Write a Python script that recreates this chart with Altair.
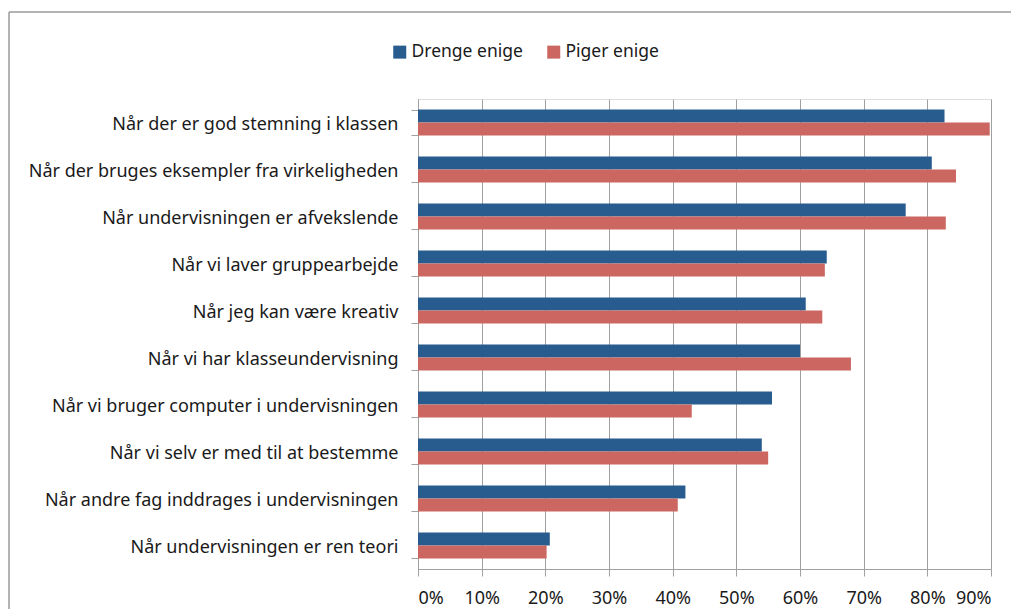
import altair as alt
import pandas as pd

categories = [
    "Når der er god stemning i klassen",
    "Når der bruges eksempler fra virkeligheden",
    "Når undervisningen er afvekslende",
    "Når vi laver gruppearbejde",
    "Når jeg kan være kreativ",
    "Når vi har klasseundervisning",
    "Når vi bruger computer i undervisningen",
    "Når vi selv er med til at bestemme",
    "Når andre fag inddrages i undervisningen",
    "Når undervisningen er ren teori",
]
drenge = [82.7, 80.7, 76.6, 64.2, 60.9, 60.0, 55.6, 54.0, 42.0, 20.7]
piger = [89.8, 84.5, 82.9, 63.9, 63.5, 68.0, 43.0, 55.0, 40.8, 20.2]
series = ["Drenge enige", "Piger enige"]
colors = ["#285C8F", "#CC6660"]
ticks = [0, 0.1, 0.2, 0.3, 0.4, 0.5, 0.6, 0.7, 0.8, 0.9]

rows = []
for c, d, p in zip(categories, drenge, piger):
    rows.append({"cat": c, "series": series[0], "val": d / 100})
    rows.append({"cat": c, "series": series[1], "val": p / 100})
df = pd.DataFrame(rows)

FONT = "Noto Sans"

bars = alt.Chart(df).mark_bar().encode(
    x=alt.X("val:Q", scale=alt.Scale(domain=[0, 0.9], nice=False),
            axis=alt.Axis(values=ticks, format=".0%", title=None, grid=True,
                          gridColor="#a0a0a0", domainColor="#a0a0a0",
                          tickColor="#a0a0a0", tickSize=7, labelFontSize=18,
                          labelFont=FONT, labelColor="#1a1a1a", labelPadding=13)),
    y=alt.Y("cat:N", sort=categories,
            scale=alt.Scale(paddingInner=0.45, paddingOuter=0.225),
            axis=alt.Axis(title=None, tickBand="extent", tickSize=7,
                          tickColor="#a0a0a0", domainColor="#a0a0a0",
                          labelFontSize=18, labelFont=FONT, labelColor="#1a1a1a",
                          labelPadding=13, labelLimit=420, labelOffset=2)),
    yOffset=alt.YOffset("series:N", sort=series),
    color=alt.Color("series:N", sort=series,
                    scale=alt.Scale(domain=series, range=colors),
                    legend=alt.Legend(title=None, orient="none", direction="horizontal",
                                      legendX=-27, legendY=-56, symbolType="square",
                                      symbolSize=169, symbolStrokeWidth=0,
                                      labelFontSize=17.5, labelFont=FONT,
                                      labelColor="#1a1a1a", columnPadding=22,
                                      labelOffset=3)),
)

border_df = pd.DataFrame({"k": [0]})
top_line = alt.Chart(border_df).mark_rule(color="#9a9a9a", strokeWidth=1.5).encode(
    x=alt.value(-409), x2=alt.value(700), y=alt.value(-87))
left_line = alt.Chart(border_df).mark_rule(color="#9a9a9a", strokeWidth=1.5).encode(
    x=alt.value(-409), y=alt.value(-87), y2=alt.value(600))

chart = alt.layer(top_line, left_line, bars).properties(
    width=573, height=470,
    autosize=alt.AutoSizeParams(type="none"),
    padding={"left": 410, "top": 91, "right": 20, "bottom": 40},
).configure_view(stroke=None).configure(background="white")

chart.save("out.html", embed_options={"renderer": "svg", "actions": False})
